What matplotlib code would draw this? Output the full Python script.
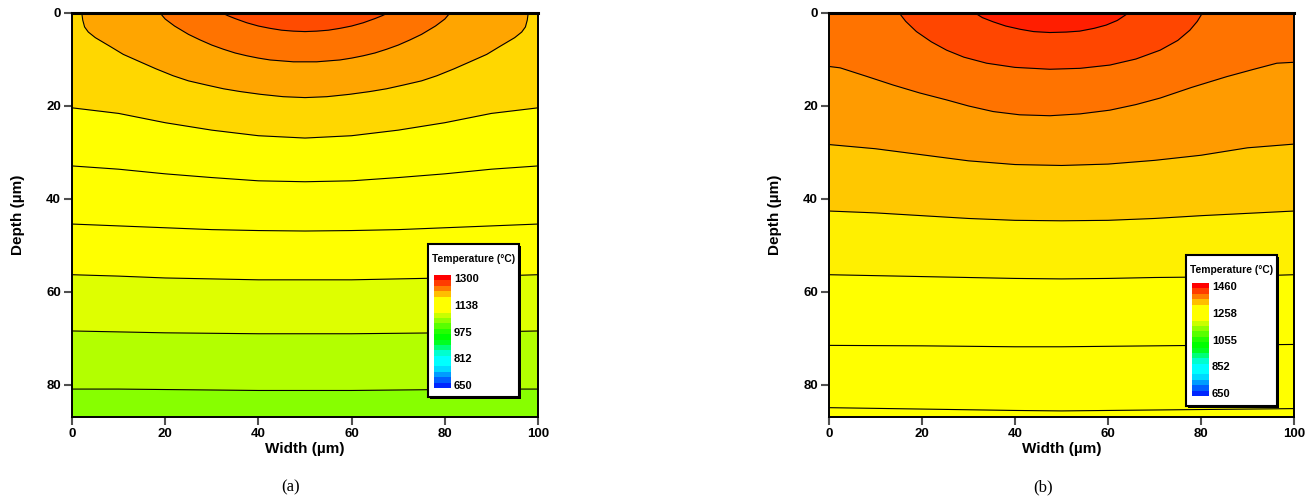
import numpy as np
import matplotlib
matplotlib.use("Agg")
import matplotlib.pyplot as plt
from matplotlib.colors import LinearSegmentedColormap, Normalize
from matplotlib.patches import Rectangle

plt.rcParams["font.family"] = ["Liberation Sans", "DejaVu Sans"]

W, H = 1313, 500

# ---- panel (a) ----
a_t_range = (650, 1300)
a_legend_vals = [1300, 1137.5, 975, 812.5, 650]
a_legend_labels = ["1300", "1138", "975", "812", "650"]
# temperature of each band, bottom band first
a_band_temps = [1033.5, 1059.5, 1085.5, 1111.5, 1137.5, 1163.5, 1189.5, 1215.5, 1241.5, 1260]
# isotherms (width um, depth um), deepest first
a_isotherms = [
    ([0, 10, 20, 30, 40, 50, 60, 70, 80, 90, 100],
     [80.9, 80.9, 81.0, 81.1, 81.2, 81.2, 81.2, 81.1, 81.0, 80.9, 80.9]),
    ([0, 10, 20, 30, 40, 50, 60, 70, 80, 90, 100],
     [68.4, 68.6, 68.8, 68.9, 69.0, 69.0, 69.0, 68.9, 68.8, 68.6, 68.4]),
    ([0, 10, 20, 30, 40, 50, 60, 70, 80, 90, 100],
     [56.3, 56.6, 57.0, 57.2, 57.4, 57.4, 57.4, 57.2, 57.0, 56.6, 56.3]),
    ([0, 10, 20, 30, 40, 50, 60, 70, 80, 90, 100],
     [45.4, 45.8, 46.2, 46.6, 46.8, 46.9, 46.8, 46.6, 46.2, 45.8, 45.4]),
    ([0, 10, 20, 30, 40, 50, 60, 70, 80, 90, 100],
     [32.9, 33.6, 34.6, 35.4, 36.1, 36.3, 36.1, 35.4, 34.6, 33.6, 32.9]),
    ([0, 10, 20, 30, 40, 50, 60, 70, 80, 90, 100],
     [20.4, 21.6, 23.6, 25.2, 26.4, 26.9, 26.4, 25.2, 23.6, 21.6, 20.4]),
    ([2.1, 2.3, 2.7, 3.5, 5.0, 8.2, 11.0, 14.6, 18.0, 21.7, 25.0, 28.9, 32.5, 36.1, 40.5, 45.3, 50,
      54.7, 59.5, 63.9, 67.5, 71.1, 75.0, 78.3, 82.0, 85.4, 89.0, 91.8, 95.0, 96.5, 97.3, 97.7, 97.9],
     [0, 1.5, 3.0, 4.1, 5.3, 7.2, 8.9, 10.5, 12.0, 13.5, 14.6, 15.5, 16.3, 16.9, 17.5, 18.0, 18.2,
      18.0, 17.5, 16.9, 16.3, 15.5, 14.6, 13.5, 12.0, 10.5, 8.9, 7.2, 5.3, 4.1, 3.0, 1.5, 0]),
    ([18.9, 20, 22, 25, 27.5, 30, 32.5, 35, 37.5, 40, 42.5, 45, 47.5, 50,
      52.5, 55, 57.5, 60, 62.5, 65, 67.5, 70, 72.5, 75, 78, 80, 81.1],
     [0, 1.3, 2.8, 4.6, 5.8, 6.9, 7.8, 8.6, 9.2, 9.7, 10.1, 10.3, 10.5, 10.5,
      10.5, 10.3, 10.1, 9.7, 9.2, 8.6, 7.8, 6.9, 5.8, 4.6, 2.8, 1.3, 0]),
    ([32.2, 33.5, 35, 37.5, 40, 42.5, 45, 47.5, 50, 52.5, 55, 57.5, 60, 62.5, 65, 66.5, 67.8],
     [0, 0.6, 1.2, 2.1, 2.8, 3.3, 3.7, 3.9, 4.0, 3.9, 3.7, 3.3, 2.8, 2.1, 1.2, 0.6, 0]),
]

# ---- panel (b) ----
b_t_range = (650, 1460)
b_legend_vals = [1460, 1257.5, 1055, 852.5, 650]
b_legend_labels = ["1460", "1258", "1055", "852", "650"]
b_band_temps = [1224, 1251, 1278, 1305, 1332, 1359, 1386, 1413, 1440]
b_isotherms = [
    ([0, 20, 40, 50, 60, 80, 100],
     [84.9, 85.2, 85.5, 85.6, 85.5, 85.3, 85.1]),
    ([0, 20, 40, 50, 60, 80, 100],
     [71.5, 71.6, 71.8, 71.8, 71.7, 71.5, 71.3]),
    ([0, 10, 20, 30, 40, 50, 60, 70, 80, 90, 100],
     [56.3, 56.5, 56.7, 56.9, 57.1, 57.2, 57.1, 56.9, 56.8, 56.6, 56.3]),
    ([0, 10, 20, 30, 40, 50, 60, 70, 80, 90, 100],
     [42.6, 43.0, 43.6, 44.2, 44.6, 44.7, 44.6, 44.2, 43.6, 43.1, 42.6]),
    ([0, 10, 20, 30, 40, 50, 60, 70, 80, 90, 100],
     [28.3, 29.2, 30.5, 31.8, 32.6, 32.8, 32.5, 31.7, 30.6, 29.0, 28.2]),
    ([0, 2.4, 8, 13.8, 19.5, 25.3, 30, 35.3, 41, 47.5, 54, 60.4, 66, 71.2, 78, 85.5, 91, 96.3, 100],
     [11.5, 11.8, 13.6, 15.5, 17.2, 18.7, 20.0, 21.2, 21.9, 22.1, 21.7, 20.9, 19.7, 18.3, 16.0, 13.7, 12.2, 10.8, 10.6]),
    ([15.1, 16.5, 18.8, 22, 25.3, 29, 33.9, 40, 47.5, 54, 60.4, 66, 71.2, 75, 77.6, 79.2, 80.3],
     [0, 1.8, 4.0, 6.2, 8.0, 9.5, 10.8, 11.7, 12.1, 11.9, 11.2, 9.9, 8.0, 5.9, 3.7, 1.8, 0]),
    ([31.4, 33, 35.3, 38, 41.1, 44, 47.5, 51, 53.9, 57, 59.6, 62, 64.4],
     [0, 1.0, 1.9, 2.8, 3.5, 4.0, 4.2, 4.1, 3.9, 3.3, 2.6, 1.6, 0]),
]

x_ticks = [0, 20, 40, 60, 80, 100]
y_ticks = [0, 20, 40, 60, 80]
depth_max = 86.8

# rainbow in the style of the solver's legend: blue-cyan-green-yellow-red
cmap = LinearSegmentedColormap.from_list("rainbow_t", [
    (0.00, (0.0, 0.15, 1.0)),
    (0.18, (0.0, 1.0, 1.0)),
    (0.27, (0.0, 1.0, 1.0)),
    (0.42, (0.0, 1.0, 0.0)),
    (0.47, (0.0, 1.0, 0.0)),
    (0.70, (1.0, 1.0, 0.0)),
    (0.80, (1.0, 1.0, 0.0)),
    (1.00, (1.0, 0.0, 0.0)),
])


def px_rect(x0, y0, x1, y1):
    # pixel box (top-left origin) -> figure fraction rect
    return [x0 / W, 1 - y1 / H, (x1 - x0) / W, (y1 - y0) / H]


def draw_panel(ax, isotherms, band_temps, t_range):
    norm = Normalize(*t_range)
    ax.set_facecolor(cmap(norm(band_temps[0])))
    for (w, d), t in zip(isotherms, band_temps[1:]):
        ax.fill_between(w, 0, d, color=cmap(norm(t)), lw=0)
    for w, d in isotherms:
        ax.plot(w, d, color="black", lw=0.8)
    ax.set_xlim(0, 100)
    ax.set_ylim(depth_max, 0)
    ax.set_xticks(x_ticks)
    ax.set_yticks(y_ticks)
    ax.tick_params(direction="out", length=6, width=1.5, color="#505050",
                   labelsize=9.5, pad=2)
    for lab in ax.get_xticklabels() + ax.get_yticklabels():
        lab.set_fontweight("bold")
    for s in ax.spines.values():
        s.set_linewidth(1.4)
    ax.spines["top"].set_linewidth(2.2)
    ax.set_xlabel("Width (µm)", fontsize=11, fontweight="bold", labelpad=2)
    ax.set_ylabel("Depth (µm)", fontsize=11, fontweight="bold", labelpad=15)


def draw_legend(fig, box, strip, t_range, vals, labels):
    x0, y0, x1, y1 = box
    fig.add_artist(Rectangle((x0 / W + 1.5 / W, 1 - y1 / H - 1.5 / H),
                             (x1 - x0) / W, (y1 - y0) / H,
                             transform=fig.transFigure, facecolor="black",
                             edgecolor="none", zorder=2))
    fig.add_artist(Rectangle((x0 / W, 1 - y1 / H), (x1 - x0) / W, (y1 - y0) / H,
                             transform=fig.transFigure, facecolor="white",
                             edgecolor="black", lw=1.5, zorder=3))
    fig.text((x0 + x1) / 2 / W, 1 - (y0 + 15) / H, "Temperature (°C)",
             ha="center", va="center", fontsize=7.4, fontweight="bold", zorder=4)
    cax = fig.add_axes(px_rect(*strip))
    cax.set_zorder(5)
    levels = np.linspace(t_range[0], t_range[1], 21)
    step = levels[1] - levels[0]
    edges = np.append(levels - step / 2, levels[-1] + step / 2)
    cax.pcolormesh([0, 1], edges, levels[:, None], cmap=cmap,
                   norm=Normalize(*t_range))
    cax.set_ylim(edges[0], edges[-1])
    cax.set_xticks([])
    cax.yaxis.tick_right()
    cax.set_yticks(vals)
    cax.set_yticklabels(labels, fontsize=8, fontweight="bold")
    cax.tick_params(axis="y", length=0, pad=2)
    for s in cax.spines.values():
        s.set_visible(False)


fig = plt.figure(figsize=(W / 100, H / 100), dpi=100)
ax_a = fig.add_axes(px_rect(72, 13, 538, 416.5))
ax_b = fig.add_axes(px_rect(829, 13, 1294, 416.5))

draw_panel(ax_a, a_isotherms, a_band_temps, a_t_range)
draw_panel(ax_b, b_isotherms, b_band_temps, b_t_range)

draw_legend(fig, (428, 244, 519, 397), (434, 275, 451, 388),
            a_t_range, a_legend_vals, a_legend_labels)
draw_legend(fig, (1186, 255, 1277, 406), (1192, 283, 1209, 396),
            b_t_range, b_legend_vals, b_legend_labels)

fig.text(291 / W, 1 - 487 / H, "(a)", ha="center", va="center", fontsize=12,
         family=["Liberation Serif", "DejaVu Serif"])
fig.text(1043 / W, 1 - 487 / H, "(b)", ha="center", va="center", fontsize=12,
         family=["Liberation Serif", "DejaVu Serif"])

fig.savefig("out.png", dpi=100)
